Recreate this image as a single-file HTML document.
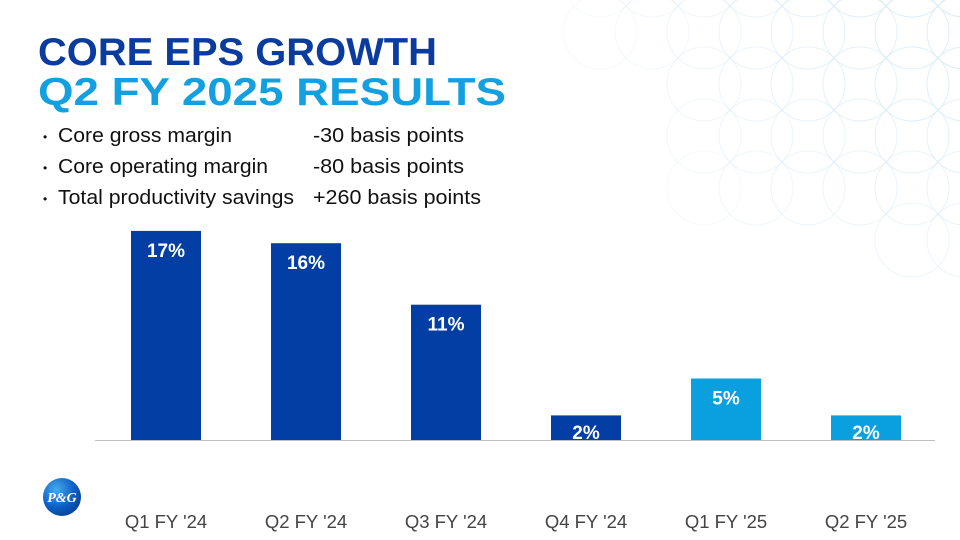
<!DOCTYPE html>
<html><head><meta charset="utf-8"><style>
html,body{margin:0;padding:0;background:#fff}
svg{display:block;font-family:"Liberation Sans",Arial,sans-serif}
</style></head><body>
<svg id="chart" width="960" height="540" viewBox="0 0 960 540">
<defs>
<radialGradient id="lg" cx="0.35" cy="0.3" r="0.8"><stop offset="0" stop-color="#4aa8ee"/><stop offset="0.6" stop-color="#0a5fc4"/><stop offset="1" stop-color="#073d8f"/></radialGradient>
</defs>
<g id="pattern" stroke="#cfe6f3" stroke-width="1" fill="none" opacity="0.8"></g>
<g>
<text x="38" y="65" font-size="39" font-weight="bold" fill="#0a3ca0" textLength="399" lengthAdjust="spacingAndGlyphs">CORE EPS GROWTH</text>
<text x="38" y="105" font-size="39" font-weight="bold" fill="#14a0e0" textLength="468" lengthAdjust="spacingAndGlyphs">Q2 FY 2025 RESULTS</text>
</g>
<g font-size="20" fill="#111">
<text x="43" y="141" font-size="12">•</text><text x="58" y="142" textLength="174" lengthAdjust="spacingAndGlyphs">Core gross margin</text><text x="313" y="142" textLength="151" lengthAdjust="spacingAndGlyphs">-30 basis points</text>
<text x="43" y="172" font-size="12">•</text><text x="58" y="173" textLength="210" lengthAdjust="spacingAndGlyphs">Core operating margin</text><text x="313" y="173" textLength="151" lengthAdjust="spacingAndGlyphs">-80 basis points</text>
<text x="43" y="203" font-size="12">•</text><text x="58" y="204" textLength="236" lengthAdjust="spacingAndGlyphs">Total productivity savings</text><text x="313" y="204" textLength="168" lengthAdjust="spacingAndGlyphs">+260 basis points</text>
</g>
<g id="bars"></g>
<line x1="95" y1="440.5" x2="935" y2="440.5" stroke="#bfbfbf" stroke-width="1"/>
<g id="xlabels"></g>
<g>
<circle cx="62" cy="497" r="19" fill="url(#lg)"/>
<text x="62" y="502" text-anchor="middle" font-size="14" font-weight="bold" font-style="italic" fill="#fff" font-family="Liberation Serif,serif">P&amp;G</text>
</g>
</svg>
<script>
const categories=["Q1 FY '24","Q2 FY '24","Q3 FY '24","Q4 FY '24","Q1 FY '25","Q2 FY '25"];
const values=[17,16,11,2,5,2];
const valueLabels=["17%","16%","11%","2%","5%","2%"];
const NS="http://www.w3.org/2000/svg";
const baseY=440, pxPer=12.3, x0=131, step=140, bw=70;
const y=v=>baseY-v*pxPer;
const xc=i=>x0+i*step;
const bars=document.getElementById('bars'), xl=document.getElementById('xlabels');
values.forEach((v,i)=>{
  const r=document.createElementNS(NS,'rect');
  r.setAttribute('x',xc(i));r.setAttribute('y',y(v));r.setAttribute('width',bw);r.setAttribute('height',baseY-y(v));
  r.setAttribute('fill',i<4?'#023ea3':'#0aa0e0');
  
  
  bars.appendChild(r);
  const t=document.createElementNS(NS,'text');
  t.setAttribute('x',xc(i)+bw/2);t.setAttribute('y',Math.min(y(v)+26,baseY-1));t.setAttribute('text-anchor','middle');
  t.setAttribute('font-size','19');t.setAttribute('font-weight','bold');t.setAttribute('fill','#fff');
  t.textContent=valueLabels[i];
  
  
  bars.appendChild(t);
  const c=document.createElementNS(NS,'text');
  c.setAttribute('x',xc(i)+bw/2);c.setAttribute('y',528);c.setAttribute('text-anchor','middle');
  c.setAttribute('font-size','18.5');c.setAttribute('fill','#444');
  c.textContent=categories[i];
  
  
  xl.appendChild(c);
});
const pat=document.getElementById('pattern');
for(let gx=600;gx<=990;gx+=52){for(let gy=-20;gy<=280;gy+=52){
  const d=Math.hypot(gx-960,gy-0);
  if(d>420||(gx<700&&gy>60)||(gy>230&&gx<880))continue;
  const c=document.createElementNS(NS,'circle');
  c.setAttribute('cx',gx);c.setAttribute('cy',gy);c.setAttribute('r',37);
  c.setAttribute('opacity',Math.max(0.2,1-d/450));
  
  
  pat.appendChild(c);
}}
</script>
</body></html>
